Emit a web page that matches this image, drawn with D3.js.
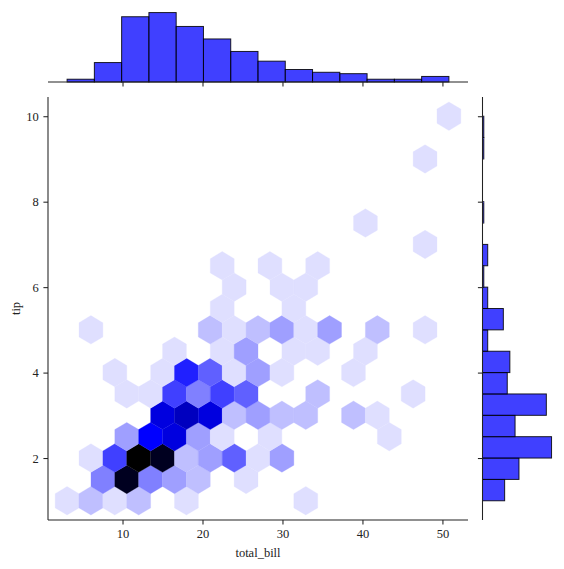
<!DOCTYPE html>
<html>
<head>
<meta charset="utf-8">
<script src="https://cdn.jsdelivr.net/npm/d3@7"></script>
<style>
    body { margin: 0; background: white; }
    text { font-family: "Liberation Serif", "DejaVu Serif", serif; font-size: 12.5px; fill: #222; }
</style>
</head>
<body>
<div id="chart"></div>
<script>
// hexbin cells: [total_bill centre, tip centre, count]
const hexCells = [
    [3.07, 1, 1], [6.05, 1, 2], [9.04, 1, 1], [12.02, 1, 2], [17.99, 1, 1], [32.91, 1, 1],
    [7.55, 1.5, 4], [10.53, 1.5, 15], [13.51, 1.5, 4], [16.50, 1.5, 3], [19.48, 1.5, 2], [25.45, 1.5, 1],
    [6.05, 2, 1], [9.04, 2, 6], [12.02, 2, 16], [15.01, 2, 15], [17.99, 2, 2], [20.97, 2, 3],
    [23.96, 2, 5], [26.94, 2, 1], [29.93, 2, 3],
    [10.53, 2.5, 3], [13.51, 2.5, 8], [16.50, 2.5, 9], [19.48, 2.5, 3], [22.47, 2.5, 1],
    [28.43, 2.5, 1], [43.36, 2.5, 1],
    [15.01, 3, 9], [17.99, 3, 10], [20.97, 3, 9], [23.96, 3, 2], [26.94, 3, 3], [29.93, 3, 2],
    [32.91, 3, 2], [38.88, 3, 2], [41.86, 3, 1],
    [10.53, 3.5, 1], [13.51, 3.5, 1], [16.50, 3.5, 6], [19.48, 3.5, 4], [22.47, 3.5, 6],
    [25.45, 3.5, 5], [34.40, 3.5, 2], [46.34, 3.5, 1],
    [9.04, 4, 1], [15.01, 4, 1], [17.99, 4, 7], [20.97, 4, 5], [23.96, 4, 1], [26.94, 4, 3],
    [29.93, 4, 1], [38.88, 4, 1],
    [16.50, 4.5, 1], [22.47, 4.5, 1], [25.45, 4.5, 3], [31.42, 4.5, 1], [34.40, 4.5, 1], [40.37, 4.5, 1],
    [6.05, 5, 1], [20.97, 5, 2], [23.96, 5, 1], [26.94, 5, 2], [29.93, 5, 3], [32.91, 5, 1],
    [35.89, 5, 3], [41.86, 5, 2], [47.83, 5, 1],
    [22.47, 5.5, 1], [31.42, 5.5, 1],
    [23.96, 6, 1], [29.93, 6, 1], [32.91, 6, 1],
    [22.47, 6.5, 1], [28.43, 6.5, 1], [34.40, 6.5, 1],
    [47.83, 7, 1], [40.37, 7.5, 1], [47.83, 9, 1], [50.81, 10, 1]
]
const hexSizeBill = 2.984
const hexSizeTip = 1.0

const billBins = [3.07, 6.48, 9.89, 13.30, 16.71, 20.12, 23.53, 26.94, 30.35, 33.76, 37.17, 40.58, 43.99, 47.40, 50.81]
const billCounts = [2, 14, 47, 50, 40, 31, 22, 15, 9, 7, 6, 2, 2, 4]

const tipBins = [1.0, 1.5, 2.0, 2.5, 3.0, 3.5, 4.0, 4.5, 5.0, 5.5, 6.0, 6.5, 7.0, 7.5, 8.0, 8.5, 9.0, 9.5, 10.0]
const tipCounts = [17, 28, 53, 25, 49, 19, 21, 4, 16, 4, 1, 4, 0, 1, 0, 0, 1, 1]

const billTicks = [10, 20, 30, 40, 50]
const tipTicks = [2, 4, 6, 8, 10]

const W = 564, H = 569
const main = {left: 48, right: 468, top: 97, bottom: 520}
const margTop = {top: 9.1, bottom: 82}
const margRight = {left: 482.5, right: 555}
const tickLen = 4.6

const svg = d3.select("#chart").append("svg")
    .attr("width", W)
    .attr("height", H)

const x = d3.scaleLinear().domain([0.683, 53.197]).range([main.left, main.right])
const y = d3.scaleLinear().domain([0.55, 10.45]).range([main.bottom, main.top])

const maxCount = d3.max(hexCells, d => d[2])
// seaborn hex cmap: white -> blue -> black on lightness
const colour = c => d3.hsl(240, 1, 1 - c / maxCount).formatRgb()

// hexagons (pointy top, matplotlib layout)
const hexPath = d => {
    const [bx, ty] = d
    const pts = [
        [bx + hexSizeBill / 2, ty - hexSizeTip / 6],
        [bx + hexSizeBill / 2, ty + hexSizeTip / 6],
        [bx, ty + hexSizeTip / 3],
        [bx - hexSizeBill / 2, ty + hexSizeTip / 6],
        [bx - hexSizeBill / 2, ty - hexSizeTip / 6],
        [bx, ty - hexSizeTip / 3]
    ]
    return "M" + pts.map(p => `${x(p[0])},${y(p[1])}`).join("L") + "Z"
}

svg.append("g").selectAll("path")
    .data(hexCells)
    .join("path")
    .attr("d", hexPath)
    .attr("fill", d => colour(d[2]))
    .attr("stroke", d => colour(d[2]))
    .attr("stroke-width", 0.3)

// main axes
const mainXAxis = svg.append("g")
    .attr("transform", `translate(0, ${main.bottom})`)
    .call(d3.axisBottom(x).tickValues(billTicks).tickSize(tickLen).tickPadding(4.6).tickSizeOuter(0))
const mainYAxis = svg.append("g")
    .attr("transform", `translate(${main.left}, 0)`)
    .call(d3.axisLeft(y).tickValues(tipTicks).tickSize(tickLen).tickPadding(4.6).tickSizeOuter(0))

mainXAxis.select(".domain").attr("d", `M${main.left},0H${main.right}`)
mainYAxis.select(".domain").attr("d", `M0,${main.bottom}V${main.top}`)

svg.append("text")
    .attr("x", (main.left + main.right) / 2)
    .attr("y", 557)
    .attr("text-anchor", "middle")
    .text("total_bill")

svg.append("text")
    .attr("transform", `translate(20, ${(main.top + main.bottom) / 2}) rotate(-90)`)
    .attr("text-anchor", "middle")
    .text("tip")

// top marginal histogram
const yTop = d3.scaleLinear()
    .domain([0, d3.max(billCounts) * 1.05])
    .range([margTop.bottom, margTop.top])

svg.append("g").selectAll("rect")
    .data(billCounts)
    .join("rect")
    .attr("x", (d, i) => x(billBins[i]))
    .attr("width", (d, i) => x(billBins[i + 1]) - x(billBins[i]))
    .attr("y", d => yTop(d))
    .attr("height", d => yTop(0) - yTop(d))
    .attr("fill", "rgba(0,0,255,0.75)")
    .attr("stroke", "rgba(0,0,0,0.85)")
    .attr("stroke-width", 1)

const topAxis = svg.append("g")
    .attr("transform", `translate(0, ${margTop.bottom})`)
    .call(d3.axisBottom(x).tickValues(billTicks).tickSize(tickLen).tickFormat("").tickSizeOuter(0))
topAxis.select(".domain").attr("d", `M${main.left},0H${main.right}`)

// right marginal histogram
const xRight = d3.scaleLinear()
    .domain([0, d3.max(tipCounts) * 1.05])
    .range([margRight.left, margRight.right])

svg.append("g").selectAll("rect")
    .data(tipCounts)
    .join("rect")
    .attr("x", xRight(0))
    .attr("width", d => xRight(d) - xRight(0))
    .attr("y", (d, i) => y(tipBins[i + 1]))
    .attr("height", (d, i) => y(tipBins[i]) - y(tipBins[i + 1]))
    .attr("fill", "rgba(0,0,255,0.75)")
    .attr("stroke", "rgba(0,0,0,0.85)")
    .attr("stroke-width", 1)
    .attr("visibility", d => d > 0 ? "visible" : "hidden")

const rightAxis = svg.append("g")
    .attr("transform", `translate(${margRight.left}, 0)`)
    .call(d3.axisLeft(y).tickValues(tipTicks).tickSize(tickLen).tickFormat("").tickSizeOuter(0))
rightAxis.select(".domain").attr("d", `M0,${main.bottom}V${main.top}`)

svg.selectAll(".domain, .tick line")
    .attr("stroke", "#222")
    .attr("stroke-width", 1.05)
svg.selectAll(".tick text")
    .attr("font-family", "Liberation Serif, DejaVu Serif, serif")
    .attr("font-size", 12.5)
    .attr("fill", "#222")
</script>
</body>
</html>
